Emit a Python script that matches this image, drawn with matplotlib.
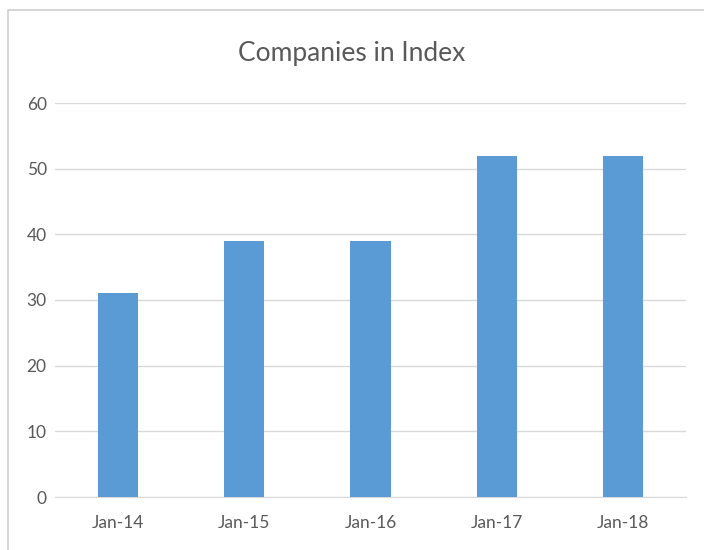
import matplotlib
matplotlib.use("Agg")
import matplotlib.pyplot as plt
from matplotlib.patches import Rectangle

categories = ["Jan-14", "Jan-15", "Jan-16", "Jan-17", "Jan-18"]
values = [31, 39, 39, 52, 52]
yticks = [0, 10, 20, 30, 40, 50, 60]

plt.rcParams['font.family'] = ['Lato', 'DejaVu Sans']

fig = plt.figure(figsize=(7.04, 5.5), dpi=100)
fig.patches.append(Rectangle((8/704, -0.1), 1.2, 1 - 10/550 + 0.1, transform=fig.transFigure,
                             fill=False, edgecolor="#d0d0d0", linewidth=1.2))
ax = fig.add_axes([55/704, 1 - 497/550, (686 - 55)/704, (497 - 103)/550])
x = range(len(categories))
ax.bar(x, values, width=0.32, color="#5B9BD5", zorder=3)
ax.set_xlim(-0.5, 4.5)
ax.set_ylim(0, 60)
ax.set_yticks(yticks)
ax.set_xticks(list(x))
ax.set_xticklabels(categories)
ax.grid(axis="y", color="#d9d9d9", linewidth=1, zorder=0)
for s in ["top", "right", "left"]:
    ax.spines[s].set_visible(False)
ax.spines["bottom"].set_color("#d9d9d9")
ax.tick_params(axis="both", length=0, labelsize=12.5, labelcolor="#595959")
ax.tick_params(axis="y", pad=6)
ax.tick_params(axis="x", pad=13)
fig.text(0.5, 1 - 53/550, "Companies in Index", ha="center", va="center",
         fontsize=19, color="#595959")
fig.savefig("out.png", dpi=100)
